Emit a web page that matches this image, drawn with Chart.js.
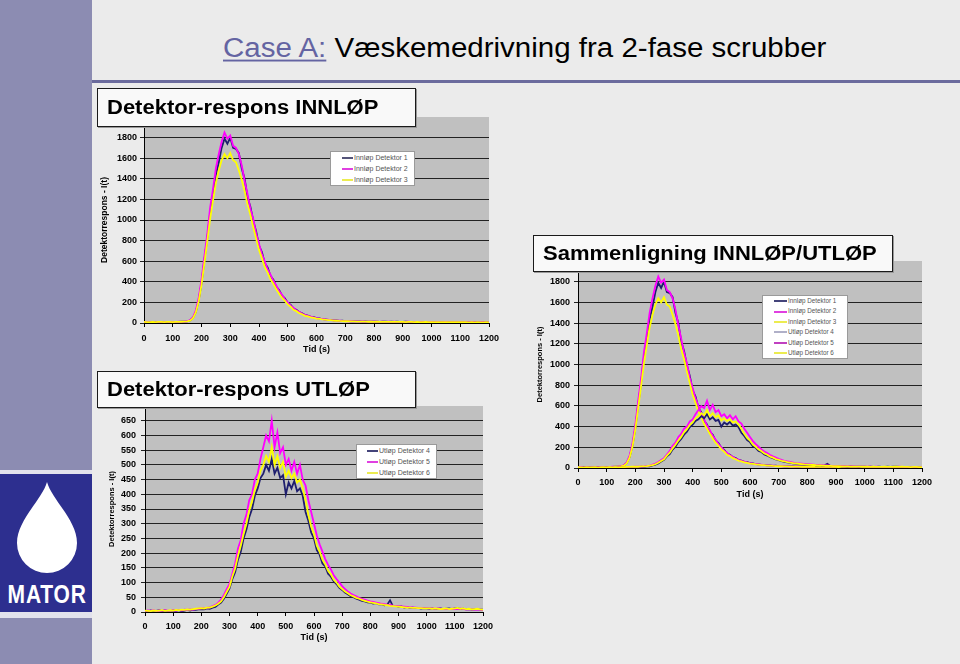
<!DOCTYPE html>
<html><head><meta charset="utf-8">
<script src="https://cdn.jsdelivr.net/npm/chart.js@4.4.1/dist/chart.umd.min.js"></script>
<style>
html,body{margin:0;padding:0;}
body{width:960px;height:664px;overflow:hidden;background:#ebebeb;position:relative;font-family:"Liberation Sans",Arial,sans-serif;}
.abs{position:absolute;}
#sidebar{left:0;top:0;width:92px;height:664px;background:#8c8cb2;}
#logoFrame{left:0;top:470px;width:92px;height:148px;background:#e2e2ec;}
#logoBlue{left:0;top:474px;width:92px;height:138px;background:#2d2f8f;overflow:hidden;}
#logoText{position:absolute;left:0;top:108px;width:92px;text-align:center;color:#fff;font-weight:bold;font-size:25px;line-height:1;}
#logoText span{display:inline-block;transform:scaleX(.84);letter-spacing:1px;}
#rule{left:92px;top:80px;width:868px;height:3px;background:#6b6b9d;}
#title{left:223px;top:33px;font-size:29.5px;line-height:1;white-space:nowrap;transform:scaleY(.95);transform-origin:0 0;color:#000;}
#title .case{color:#6464a2;text-decoration:underline;text-decoration-thickness:2px;text-underline-offset:3px;}
.box{position:absolute;background:#f9f9f9;border:1px solid #1a1a1a;box-shadow:1px 1px 0 #999;font-weight:bold;font-size:22px;display:flex;align-items:center;padding-left:9px;box-sizing:border-box;z-index:5;white-space:nowrap;color:#000;}
.box span{display:inline-block;transform:scaleY(.92);}
canvas{position:absolute;}
.legend{position:absolute;background:#fff;border:1px solid #9a9a9a;z-index:4;box-sizing:border-box;}
.legend .row{position:relative;white-space:nowrap;color:#555;}
.legend .sw{position:absolute;height:2px;}
.legend .tx{position:absolute;}
</style>
</head>
<body>
<div id="sidebar" class="abs"></div>
<div id="logoFrame" class="abs"></div>
<div id="logoBlue" class="abs">
  <svg width="92" height="138" style="position:absolute;left:0;top:0">
    <path d="M47,8 C52,26 77,46 77,69 A30,30 0 0 1 17,69 C17,46 42,26 47,8 Z" fill="#ffffff"/>
  </svg>
  <div id="logoText"><span>MATOR</span></div>
</div>
<div id="rule" class="abs"></div>
<div id="title" class="abs"><span class="case">Case A:</span> Væskemedrivning fra 2-fase scrubber</div>

<div class="box" style="left:97px;top:88px;width:319px;height:39px;"><span>Detektor-respons INNLØP</span></div>
<div class="box" style="left:97px;top:371px;width:319px;height:37px;"><span>Detektor-respons UTLØP</span></div>
<div class="box" style="left:533px;top:235px;width:360px;height:37px;"><span>Sammenligning INNLØP/UTLØP</span></div>

<canvas id="c1" width="410" height="260" style="left:97px;top:100px;"></canvas>
<canvas id="c2" width="405" height="255" style="left:97px;top:395px;"></canvas>
<canvas id="c3" width="420" height="250" style="left:527px;top:250px;"></canvas>

<div id="leg1" class="legend" style="left:330px;top:151px;width:85px;height:35px;"></div>
<div id="leg2" class="legend" style="left:356px;top:444px;width:81px;height:35px;"></div>
<div id="leg3" class="legend" style="left:762px;top:295px;width:86px;height:64px;"></div>

<script>
const FONT = '"Liberation Sans", Arial, sans-serif';

const TIME_S = [
  0,10,20,30,40,50,60,70,80,90,
  100,110,120,130,140,150,160,170,180,190,
  200,210,220,230,240,250,260,270,280,290,
  300,310,320,330,340,350,360,370,380,390,
  400,410,420,430,440,450,460,470,480,490,
  500,510,520,530,540,550,560,570,580,590,
  600,610,620,630,640,650,660,670,680,690,
  700,710,720,730,740,750,760,770,780,790,
  800,810,820,830,840,850,860,870,880,890,
  900,910,920,930,940,950,960,970,980,990,
  1000,1010,1020,1030,1040,1050,1060,1070,1080,1090,
  1100,1110,1120,1130,1140,1150,1160,1170,1180,1190,
  1200];

const INNLOP_DET1 = [
  9,7,10,8,11,9,8,10,9,11,
  10,8,11,12,13,16,24,48,105,215,
  385,610,820,1070,1250,1440,1560,1700,1790,1740,
  1800,1700,1690,1650,1500,1400,1220,1130,990,890,
  750,690,580,540,455,420,350,320,265,240,
  195,175,140,128,105,95,78,72,60,57,
  47,44,38,36,31,30,25,25,21,22,
  18,19,16,17,15,16,14,15,13,14,
  12,14,11,13,12,11,13,10,12,11,
  10,12,10,11,9,11,10,9,11,10,
  9,10,8,10,9,8,10,9,8,9,
  8,10,8,9,7,9,8,7,9,8,
  7];
const INNLOP_DET2 = [
  8,10,9,11,8,10,9,11,10,8,
  11,9,12,11,14,17,28,55,120,240,
  420,650,860,1120,1300,1500,1640,1760,1850,1790,
  1820,1720,1700,1640,1530,1380,1250,1110,1010,870,
  770,670,600,520,470,410,365,310,275,230,
  200,168,148,122,108,90,80,69,62,54,
  48,42,39,34,32,28,26,23,22,20,
  19,17,17,15,16,14,15,13,14,12,
  13,12,11,13,10,12,11,12,10,11,
  11,10,12,9,11,10,10,11,9,10,
  10,9,10,8,9,10,8,9,9,8,
  9,8,9,8,8,9,7,8,8,7,
  8];
const INNLOP_DET3 = [
  10,9,8,10,9,11,10,9,10,11,
  9,11,10,12,13,15,22,45,100,205,
  370,580,790,1010,1190,1360,1480,1580,1640,1600,
  1650,1580,1560,1480,1390,1280,1150,1050,930,820,
  710,630,545,490,425,380,330,285,245,215,
  180,158,128,115,95,85,70,64,55,50,
  43,40,35,32,28,27,23,22,20,19,
  17,17,15,15,14,14,13,13,12,12,
  11,12,10,11,11,10,11,10,10,10,
  10,9,10,10,9,10,9,9,10,9,
  9,9,8,9,8,9,8,8,9,8,
  8,8,8,7,8,7,8,7,7,8,
  7];
const UTLOP_DET4 = [
  4,2,5,3,4,6,3,5,4,3,
  5,4,6,3,5,7,5,8,7,9,
  10,9,12,11,15,17,25,32,45,62,
  80,112,135,178,205,250,280,322,350,395,
  420,455,470,500,480,520,470,490,455,465,
  400,440,420,445,410,420,395,340,310,270,
  250,210,195,165,155,130,120,105,95,82,
  75,66,60,54,50,45,42,38,36,33,
  32,29,30,26,27,23,25,40,20,21,
  18,19,15,17,14,15,13,14,12,13,
  12,11,12,10,11,12,10,11,12,10,
  12,13,10,11,9,10,8,9,10,8,
  8];
const UTLOP_DET5 = [
  3,5,4,6,3,5,4,6,5,4,
  6,5,7,5,8,7,9,8,10,11,
  12,13,14,16,20,24,32,42,58,78,
  95,130,165,215,245,300,330,380,400,450,
  470,520,560,600,580,650,560,610,540,560,
  500,520,480,510,470,500,450,430,380,340,
  300,260,230,205,180,160,145,125,112,100,
  88,78,70,63,58,53,48,45,42,39,
  36,34,32,30,28,27,25,24,22,21,
  20,19,18,17,16,16,15,14,14,13,
  13,12,12,11,12,11,10,11,10,11,
  11,10,12,10,9,10,9,8,9,8,
  7];
const UTLOP_DET6 = [
  5,4,3,5,4,5,6,4,5,6,
  5,7,6,8,7,9,8,10,11,12,
  13,12,15,15,18,22,28,36,50,68,
  85,120,148,190,225,265,300,345,375,415,
  440,480,500,530,510,560,500,530,490,510,
  460,480,455,470,440,450,420,380,330,290,
  265,225,205,178,162,140,128,110,100,86,
  78,70,64,57,53,48,45,41,38,35,
  33,31,29,27,26,24,23,21,20,19,
  18,17,16,15,15,14,14,13,13,12,
  12,12,11,12,11,10,11,12,10,11,
  12,14,11,12,10,11,9,10,11,9,
  8];

const X_TICKS = [0,100,200,300,400,500,600,700,800,900,1000,1100,1200];
const Y_TICKS_INNLOP = [0,200,400,600,800,1000,1200,1400,1600,1800];
const Y_TICKS_UTLOP = [0,50,100,150,200,250,300,350,400,450,500,550,600,650];
const LABELS_INNLOP = ['Innløp Detektor 1','Innløp Detektor 2','Innløp Detektor 3'];
const LABELS_UTLOP = ['Utløp Detektor 4','Utløp Detektor 5','Utløp Detektor 6'];
const X_TITLE = 'Tid (s)';
const Y_TITLE = 'Detektorrespons - I(t)';

const NAVY = '#1e1e6e', MAGENTA = '#ff00ff', YELLOW = '#ffff00';

function series(vals){ return vals.map((v,i)=>({x:TIME_S[i], y:v})); }
function ds(label, vals, color, order){
  return {label, data: series(vals), borderColor: color, backgroundColor: color,
          borderWidth: 1.8, pointRadius: 0, tension: 0, order, fill:false};
}
const plotBg = {id:'plotBg', beforeDraw(c){
  const a=c.chartArea, ctx=c.ctx; ctx.save(); ctx.fillStyle='#c0c0c0';
  ctx.fillRect(a.left,a.top,a.right-a.left,a.bottom-a.top); ctx.restore();
}};

function makeChart(id, g, datasets, yMax, yTicks){
  new Chart(document.getElementById(id), {
    type:'line',
    data:{datasets},
    options:{
      responsive:false, animation:false, devicePixelRatio:1,
      layout:{padding:{left:0,right:g.padR,top:g.padT,bottom:0}},
      plugins:{legend:{display:false}, tooltip:{enabled:false}},
      scales:{
        x:{type:'linear', min:0, max:1200,
          afterBuildTicks(ax){ ax.ticks = X_TICKS.map(v=>({value:v})); },
          afterFit(s){ s.height = g.xH; },
          grid:{drawOnChartArea:false, drawTicks:true, tickLength:4, color:'#000', lineWidth:1},
          border:{display:true, color:'#000', width:1},
          ticks:{font:{family:FONT,size:9,weight:'bold'}, color:'#000', padding:g.xTickPad,
                 maxRotation:0, autoSkip:false, callback:v=>String(v)},
          title:{display:true, text:X_TITLE, font:{family:FONT,size:9,weight:'bold'}, color:'#000',
                 padding:{top:0,bottom:g.xTitlePad}}},
        y:{type:'linear', min:0, max:yMax,
          afterBuildTicks(ax){ ax.ticks = yTicks.map(v=>({value:v})); },
          afterFit(s){ s.width = g.yW; },
          grid:{color:'#222', lineWidth:1, tickLength:4, drawTicks:true},
          border:{display:true, color:'#000', width:1},
          ticks:{font:{family:FONT,size:9,weight:'bold'}, color:'#000', padding:g.yTickPad,
                 autoSkip:false, callback:v=>String(v)},
          title:{display:true, text:Y_TITLE, font:{family:FONT,size:g.yTitleSize,weight:'bold'}, color:'#000',
                 padding:{top:g.yTitlePad,bottom:0}}}
      }
    },
    plugins:[plotBg]
  });
}

makeChart('c1', {padR:18,padT:17,xH:37,yW:47,xTickPad:6,xTitlePad:4.6,yTickPad:3,yTitleSize:8.5,yTitlePad:2.9},
  [ds(LABELS_INNLOP[0],INNLOP_DET1,NAVY,3), ds(LABELS_INNLOP[1],INNLOP_DET2,MAGENTA,2), ds(LABELS_INNLOP[2],INNLOP_DET3,YELLOW,1)],
  2000, Y_TICKS_INNLOP);

makeChart('c2', {padR:19,padT:11,xH:38,yW:48,xTickPad:5.5,xTitlePad:6.6,yTickPad:5,yTitleSize:7.5,yTitlePad:10.5},
  [ds(LABELS_UTLOP[0],UTLOP_DET4,NAVY,3), ds(LABELS_UTLOP[1],UTLOP_DET5,MAGENTA,2), ds(LABELS_UTLOP[2],UTLOP_DET6,YELLOW,1)],
  700, Y_TICKS_UTLOP);

makeChart('c3', {padR:25,padT:11,xH:32,yW:51,xTickPad:5,xTitlePad:0,yTickPad:4,yTitleSize:7.5,yTitlePad:8.2},
  [ds(LABELS_INNLOP[0],INNLOP_DET1,NAVY,6), ds(LABELS_INNLOP[1],INNLOP_DET2,MAGENTA,5), ds(LABELS_INNLOP[2],INNLOP_DET3,YELLOW,4),
   ds(LABELS_UTLOP[0],UTLOP_DET4,NAVY,3), ds(LABELS_UTLOP[1],UTLOP_DET5,MAGENTA,2), ds(LABELS_UTLOP[2],UTLOP_DET6,YELLOW,1)],
  2000, Y_TICKS_INNLOP);

function buildLegend(id, labels, colors, rowH, lineL, lineW, fontSize){
  const el = document.getElementById(id);
  labels.forEach((lab,i)=>{
    const r = document.createElement('div'); r.className='row'; r.style.height=rowH+'px';
    const sw = document.createElement('div'); sw.className='sw';
    sw.style.left=lineL+'px'; sw.style.width=lineW+'px'; sw.style.top=(rowH/2-1)+'px'; sw.style.background=colors[i];
    const tx = document.createElement('div'); tx.className='tx';
    tx.style.left=(lineL+lineW+1)+'px'; tx.style.fontSize=fontSize+'px'; tx.style.lineHeight=rowH+'px'; tx.style.top='0px';
    tx.textContent = lab;
    r.appendChild(sw); r.appendChild(tx); el.appendChild(r);
  });
}
buildLegend('leg1', LABELS_INNLOP, ['#55557a','#e040e0','#ecec50'], 11, 11, 11, 7);
buildLegend('leg2', LABELS_UTLOP, ['#44447a','#e040e0','#ecec50'], 11.1, 10, 11, 7);
buildLegend('leg3', LABELS_INNLOP.concat(LABELS_UTLOP),
  ['#44447a','#e040e0','#ecec50','#b0b0c8','#c040c0','#ecec50'], 10.4, 11, 13, 6.3);
</script>
</body></html>
